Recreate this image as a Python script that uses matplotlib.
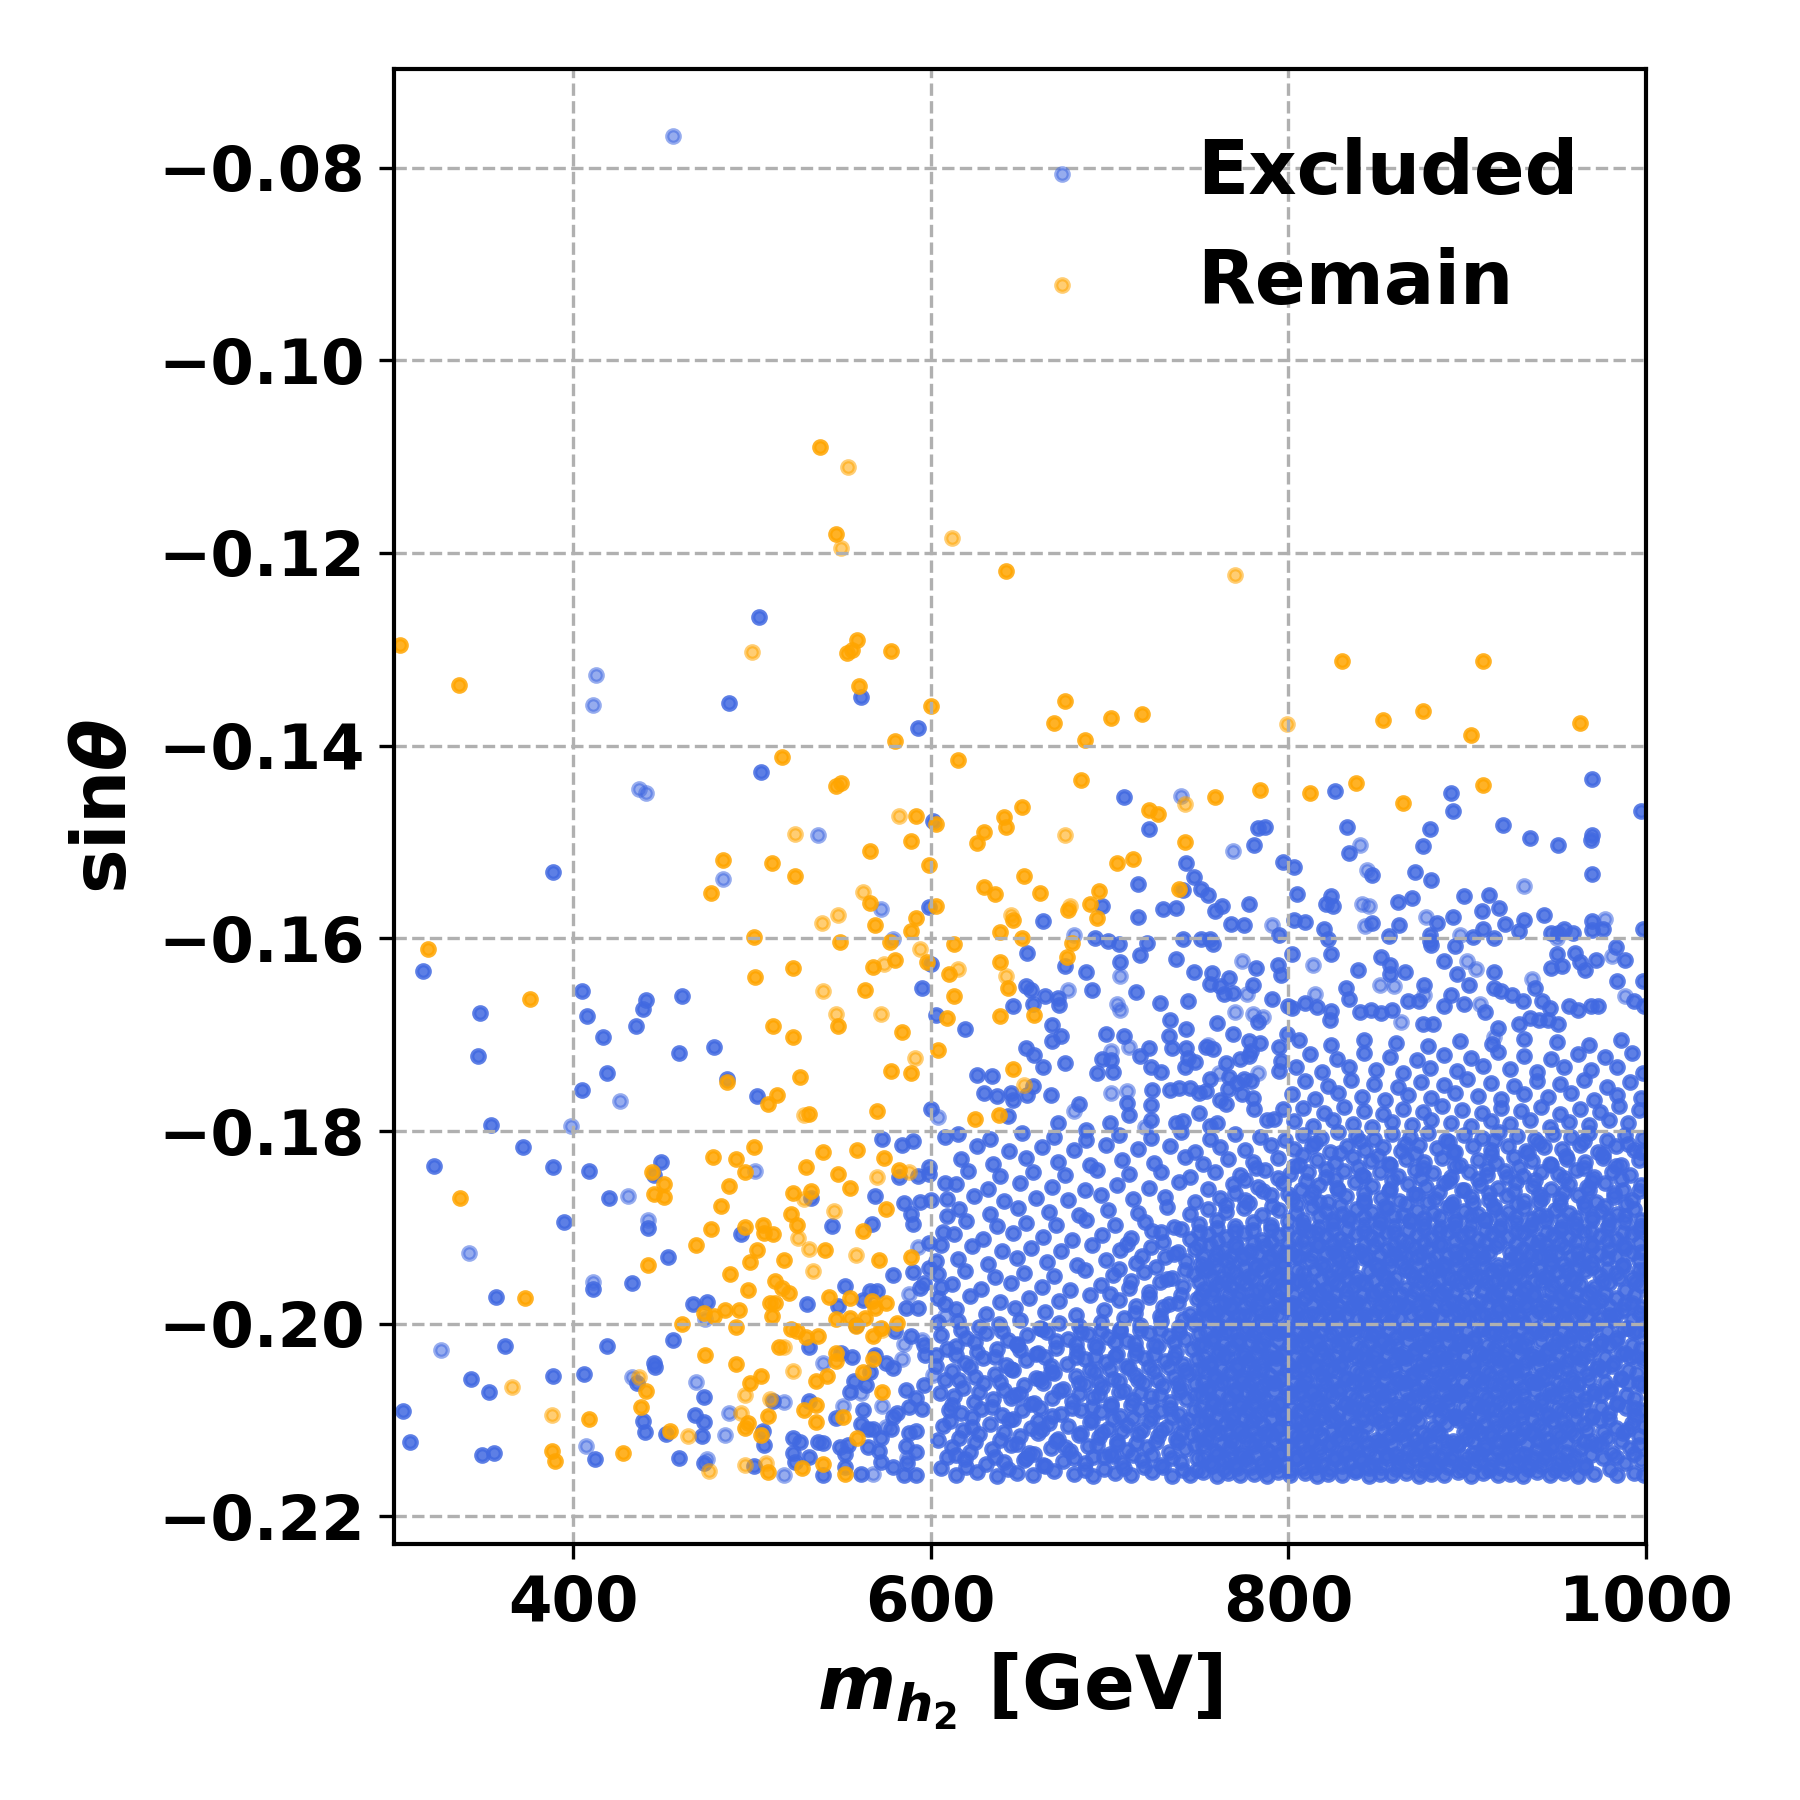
import numpy as np
import matplotlib
matplotlib.use('Agg')
import matplotlib.pyplot as plt

plt.rcParams['mathtext.fontset'] = 'custom'
plt.rcParams['mathtext.rm'] = 'DejaVu Sans:bold'
plt.rcParams['mathtext.it'] = 'DejaVu Sans:italic:bold'
plt.rcParams['mathtext.bf'] = 'DejaVu Sans:bold'

# points: (m_h2 in GeV, sin(theta) * 1e4)
remain_pts = [
    (303,-1295),(336,-1337),(538,-1090),(547,-1180),(559,-1290),(556,-1301),(553,-1304),(578,-1302),(560,-1338),(600,-1359),
    (580,-1395),(517,-1412),(547,-1442),(550,-1439),(592,-1473),(603,-1481),(589,-1499),(566,-1509),(484,-1519),(511,-1522),
    (524,-1535),(477,-1553),(599,-1524),(566,-1563),(569,-1586),(592,-1579),(589,-1592),(603,-1566),(501,-1599),
    (319,-1611),(376,-1663),(337,-1869),(373,-1973),(388,-2132),(390,-2142),(409,-2099),(428,-2134),
    (502,-1640),(523,-1631),(549,-1604),(512,-1691),(523,-1702),(548,-1691),(563,-1654),(568,-1630),(580,-1622),(577,-1604),
    (598,-1625),(584,-1697),(604,-1716),(610,-1637),(609,-1683),(527,-1744),(578,-1738),(589,-1740),(486,-1749),(514,-1763),
    (509,-1772),(532,-1782),(570,-1779),(501,-1817),(540,-1822),(559,-1820),(574,-1828),(478,-1827),(491,-1829),(496,-1842),
    (444,-1842),(451,-1855),(445,-1865),(451,-1868),(487,-1857),(530,-1837),(548,-1845),(582,-1840),(555,-1859),(523,-1864),
    (533,-1862),(483,-1878),(575,-1881),(522,-1886),(525,-1898),(496,-1900),(506,-1897),(507,-1906),(512,-1907),(477,-1902),
    (562,-1904),(469,-1918),(541,-1923),(503,-1923),(499,-1936),(518,-1934),(571,-1934),(589,-1931),(488,-1948),(442,-1939),
    (513,-1956),(517,-1963),(521,-1968),(498,-1965),(543,-1972),(555,-1973),(510,-1978),(513,-1978),(567,-1976),(569,-1984),
    (575,-1978),(485,-1986),(493,-1986),(473,-1989),(479,-1992),(511,-1992),(547,-1995),(555,-1994),(563,-1994),(581,-1999),
    (558,-2002),(572,-2004),(568,-2013),(461,-2000),(491,-2003),(522,-2005),(525,-2008),(530,-2014),(537,-2013),(515,-2024),
    (474,-2032),(547,-2030),(547,-2039),(568,-2037),(491,-2042),(562,-2050),(542,-2054),(505,-2054),(536,-2059),(499,-2062),
    (441,-2070),(438,-2086),(573,-2071),(536,-2084),(529,-2090),(509,-2096),(551,-2097),(536,-2102),(498,-2103),(496,-2108),
    (505,-2115),(454,-2111),(559,-2119),(540,-2146),(528,-2150),(509,-2154),(552,-2156),
    (642,-1219),(830,-1312),(909,-1312),(963,-1376),(675,-1354),(669,-1376),(686,-1394),(701,-1371),(718,-1367),(853,-1373),
    (875,-1364),(902,-1389),(615,-1415),(684,-1436),(759,-1453),(784,-1446),(812,-1449),(838,-1439),(864,-1459),(909,-1441),
    (651,-1464),(641,-1474),(642,-1484),(630,-1490),(626,-1501),(722,-1467),(727,-1471),(742,-1500),(704,-1522),(713,-1518),
    (652,-1535),(630,-1547),(636,-1554),(661,-1553),(694,-1551),(689,-1564),(677,-1571),(693,-1579),(646,-1581),(639,-1593),
    (651,-1600),(739,-1549),(613,-1606),(679,-1605),(676,-1619),(639,-1625),(643,-1651),(613,-1660),(639,-1681),(658,-1680),
    (646,-1736),(625,-1787),(638,-1783),
]
remain_faint = [
    (554,-1111),(550,-1195),(612,-1184),(500,-1303),(582,-1473),(524,-1492),(562,-1552),(548,-1576),(539,-1584),
    (366,-2066),(388,-2095),(540,-1655),(547,-1679),(574,-1627),(594,-1611),(572,-1678),(591,-1724),(529,-1783),(588,-1842),
    (570,-1848),(529,-1870),(546,-1883),(526,-1911),(532,-1922),(558,-1929),(534,-1945),(573,-2006),(518,-2024),(523,-2049),
    (437,-2055),(496,-2074),(510,-2078),(494,-2093),(464,-2116),(508,-2145),(496,-2147),(476,-2153),
    (770,-1223),(799,-1377),(675,-1493),(742,-1461),(678,-1566),(645,-1576),(615,-1632),(642,-1639),(652,-1752),
]
excluded_pts = [
    (504,-1266),(487,-1356),(561,-1349),(593,-1382),(505,-1427),(601,-1478),(389,-1531),(599,-1567),
    (316,-1634),(348,-1677),(347,-1722),(405,-1655),(408,-1681),(441,-1664),(439,-1673),(461,-1660),(435,-1691),(417,-1702),
    (459,-1719),(479,-1713),(419,-1740),(405,-1757),(486,-1746),(503,-1764),(354,-1794),(372,-1817),(322,-1836),(389,-1837),
    (409,-1841),(449,-1832),(445,-1846),(420,-1869),(395,-1894),(442,-1901),(453,-1931),(411,-1964),(433,-1958),(357,-1972),
    (494,-1907),(533,-1869),(545,-1899),(567,-1896),(573,-1808),(584,-1814),(590,-1810),(595,-1652),(600,-1627),(603,-1680),
    (600,-1777),(582,-1848),(593,-1847),(599,-1837),(599,-1845),(569,-1867),(585,-1875),(594,-1874),(600,-1872),(589,-1886),
    (590,-1896),(599,-1916),(606,-1918),(608,-1806),(609,-1870),(608,-1854),(609,-1888),(590,-1946),(579,-1949),(599,-1942),
    (604,-1948),(596,-1958),(594,-1963),(604,-1973),(552,-1961),(562,-1975),(566,-1966),(570,-1966),(531,-1980),(548,-1982),
    (586,-1984),(593,-1984),(467,-1979),(475,-1977),(456,-2017),(419,-2023),(362,-2023),(343,-2057),(353,-2071),(389,-2054),
    (406,-2052),(445,-2041),(446,-2045),(436,-2061),(305,-2091),(309,-2123),(349,-2136),(356,-2134),(412,-2140),(439,-2101),
    (440,-2112),(452,-2114),(468,-2095),(473,-2102),(472,-2116),(473,-2076),(459,-2139),(473,-2145),(501,-2148),(506,-2111),
    (507,-2126),(512,-2080),(523,-2119),(527,-2123),(523,-2134),(524,-2143),(532,-2138),(537,-2123),(540,-2124),(540,-2157),
    (532,-2080),(547,-2098),(549,-2128),(552,-2135),(552,-2149),(554,-2126),(561,-2156),(565,-2128),(571,-2132),(572,-2143),
    (561,-2104),(565,-2109),(568,-2109),(572,-2119),(578,-2109),(579,-2149),(585,-2157),(592,-2157),(587,-2145),(586,-2127),
    (592,-2133),(588,-2113),(592,-2111),(579,-2097),(581,-2093),(588,-2086),(595,-2088),(592,-2077),(562,-2090),(555,-2071),
    (557,-2059),(564,-2064),(556,-2035),(550,-2030),(532,-2024),(566,-2050),(569,-2032),(575,-2041),(579,-2046),(586,-2069),
    (596,-2064),(580,-2007),(589,-2013),(596,-2022),(597,-2032),(603,-2032),(558,-2001),
    (708,-1453),(722,-1487),(783,-1485),(787,-1484),(781,-1503),(743,-1522),(747,-1536),(751,-1549),(755,-1555),(716,-1544),
    (741,-1550),(797,-1521),(803,-1526),(805,-1554),(826,-1447),(833,-1484),(834,-1511),(847,-1534),(824,-1556),(821,-1564),
    (825,-1566),(861,-1562),(869,-1558),(871,-1531),(875,-1504),(879,-1486),(880,-1539),(891,-1449),(892,-1468),(898,-1556),
    (912,-1555),(908,-1572),(892,-1578),(883,-1584),(879,-1596),(862,-1586),(856,-1598),(847,-1584),(820,-1590),(822,-1601),
    (809,-1583),(803,-1581),(795,-1596),(778,-1564),(775,-1586),(768,-1585),(763,-1566),(759,-1572),(756,-1601),(751,-1601),
    (741,-1601),(737,-1568),(730,-1570),(716,-1578),(696,-1566),(663,-1582),(692,-1600),(699,-1603),(903,-1599),(909,-1590),
    (970,-1435),(920,-1482),(935,-1496),(951,-1503),(970,-1493),(969,-1498),(997,-1468),(970,-1533),(918,-1569),(932,-1581),
    (943,-1576),(921,-1585),(915,-1600),(929,-1592),(951,-1594),(954,-1590),(959,-1594),(970,-1582),(976,-1590),(970,-1591),
    (998,-1590),(893,-1608),(950,-1616),(960,-1615),(983,-1609),(947,-1594),
    (879,-1603),(880,-1607),(802,-1616),(824,-1616),(839,-1633),(852,-1619),(857,-1628),(857,-1637),(865,-1635),(887,-1624),
    (894,-1637),(915,-1635),(901,-1648),(876,-1648),(832,-1652),(834,-1663),(809,-1667),(802,-1672),(816,-1671),(824,-1675),
    (823,-1685),(840,-1676),(846,-1674),(852,-1677),(858,-1674),(867,-1665),(873,-1665),(875,-1689),(881,-1689),(887,-1670),
    (891,-1659),(898,-1668),(910,-1676),(915,-1652),(919,-1655),(925,-1659),(931,-1665),(938,-1652),(942,-1665),(946,-1672),
    (947,-1631),(953,-1629),(963,-1625),(966,-1633),(972,-1622),(988,-1622),(998,-1644),(984,-1644),(957,-1670),(962,-1674),
    (969,-1670),(973,-1670),(993,-1665),(999,-1670),(929,-1689),(935,-1683),(940,-1685),(945,-1685),(951,-1689),(917,-1693),
    (705,-1606),(721,-1605),(758,-1606),(654,-1615),(675,-1629),(687,-1635),(690,-1654),(706,-1625),(717,-1617),(737,-1621),
    (747,-1635),(757,-1636),(756,-1647),(762,-1649),(767,-1641),(782,-1631),(794,-1628),(796,-1638),(780,-1648),(764,-1658),
    (769,-1657),(791,-1663),(800,-1670),(653,-1649),(656,-1654),(664,-1660),(671,-1662),(672,-1669),(657,-1668),(646,-1670),
    (619,-1694),(668,-1690),(673,-1701),(668,-1707),(715,-1656),(728,-1667),(744,-1665),(734,-1685),(743,-1694),(733,-1701),
    (760,-1688),(783,-1687),(769,-1699),(778,-1707),(784,-1709),(795,-1713),(799,-1699),(653,-1714),(658,-1721),(663,-1733),
    (675,-1729),(698,-1699),(708,-1701),(696,-1725),(701,-1726),(722,-1714),(717,-1722),(735,-1714),(743,-1714),(744,-1724),
    (742,-1733),(748,-1728),(754,-1713),(758,-1715),(765,-1729),(773,-1725),(778,-1722),(779,-1717),(796,-1727),(626,-1742),
    (634,-1743),(693,-1740),(702,-1739),(723,-1733),(729,-1739),(724,-1757),(734,-1757),(739,-1755),(745,-1755),(756,-1746),
    (767,-1744),(766,-1756),(771,-1750),(775,-1746),(779,-1748),(795,-1738),(630,-1760),(637,-1764),(645,-1761),(646,-1768),
    (654,-1763),(657,-1753),(667,-1763),(710,-1771),(711,-1783),(723,-1773),(723,-1789),(750,-1760),(754,-1758),(762,-1768),
    (765,-1772),(774,-1762),(780,-1766),(781,-1777),(788,-1788),(792,-1787),(797,-1777),(643,-1784),(671,-1792),(687,-1799),
    (683,-1772),(700,-1792),(737,-1792),(741,-1790),(750,-1781),(760,-1792),(756,-1795),
]
excluded_faint = [
    (456,-767),(413,-1327),(411,-1358),(437,-1445),(441,-1449),(537,-1493),(484,-1538),(572,-1570),(579,-1601),
    (426,-1769),(399,-1795),(431,-1867),(442,-1892),(342,-1927),(411,-1957),(502,-1841),(604,-1785),(593,-1920),(588,-1969),
    (608,-1992),(474,-1995),(326,-2027),(433,-2055),(407,-2127),(469,-2060),(487,-2093),(485,-2115),(475,-2140),(518,-2081),
    (518,-2157),(568,-2156),(575,-2107),(551,-2085),(573,-2085),(561,-2072),(540,-2041),(584,-2037),(585,-2021),(595,-2017),
    (601,-2053),(587,-2139),
    (740,-1452),(769,-1509),(840,-1503),(844,-1529),(841,-1564),(845,-1566),(877,-1578),(843,-1587),(791,-1586),(680,-1596),
    (896,-1596),(932,-1546),(977,-1580),(950,-1600),
    (814,-1628),(900,-1624),(905,-1632),(876,-1659),(851,-1648),(859,-1649),(815,-1658),(863,-1687),(907,-1668),(936,-1642),
    (981,-1618),(988,-1660),(915,-1702),
    (706,-1639),(677,-1654),(704,-1668),(706,-1674),(770,-1676),(780,-1679),(786,-1682),(711,-1713),(701,-1717),(761,-1740),
    (783,-1740),(701,-1761),(710,-1758),(680,-1779),(720,-1796),(755,-1711),(774,-1624),(777,-1658),
]
# dense cloud
excluded_dense = [
    (614,-2157),(626,-2154),(637,-2158),(648,-2155),(657,-2157),(669,-2153),(680,-2156),(691,-2158),(703,-2155),(712,-2157),(724,-2154),(735,-2158),(745,-2157),(752,-2154),(760,-2158),(766,-2155),(773,-2157),(781,-2156),(788,-2158),(794,-2154),(801,-2157),(809,-2155),(816,-2158),(822,-2156),(830,-2157),(837,-2154),(845,-2158),(851,-2156),(858,-2157),(866,-2155),(873,-2158),(880,-2156),(887,-2157),(895,-2154),(902,-2158),(909,-2155),(917,-2157),(924,-2156),(931,-2158),(939,-2154),(946,-2157),(954,-2155),(962,-2158),(971,-2156),(984,-2157),(993,-2155),(999,-2157),
    (619,-2140),(631,-2146),(641,-2143),(653,-2139),(663,-2147),(674,-2142),(686,-2145),(697,-2138),(707,-2144),(718,-2141),(729,-2147),(740,-2143),(749,-2139),(756,-2145),(764,-2142),(770,-2146),(777,-2140),(785,-2144),(791,-2141),(798,-2147),(805,-2139),(813,-2143),(819,-2146),(826,-2140),(834,-2144),(841,-2142),(848,-2147),(855,-2139),(862,-2145),(870,-2141),(877,-2143),(884,-2146),(891,-2140),(898,-2144),(906,-2141),(913,-2147),(920,-2139),(928,-2143),(935,-2146),(943,-2140),(950,-2144),(958,-2142),(966,-2147),(976,-2139),(988,-2145),(997,-2141),
    (612,-2128),(622,-2133),(634,-2130),(645,-2126),(655,-2134),(667,-2129),(678,-2132),(688,-2127),(700,-2135),(710,-2131),(721,-2128),(733,-2133),(742,-2130),(752,-2126),(759,-2132),(767,-2129),(774,-2134),(781,-2127),(788,-2131),(795,-2135),(802,-2128),(809,-2133),(817,-2130),(824,-2126),(831,-2134),(838,-2129),(845,-2132),(852,-2127),(860,-2135),(867,-2131),(874,-2128),(881,-2133),(888,-2130),(895,-2126),(903,-2134),(910,-2129),(917,-2132),(924,-2127),(932,-2135),(939,-2131),(947,-2128),(955,-2133),(963,-2130),(972,-2126),(981,-2134),(991,-2129),
    (616,-2119),(627,-2114),(639,-2121),(650,-2116),(660,-2113),(671,-2120),(683,-2115),(694,-2118),(704,-2122),(716,-2114),(727,-2117),(737,-2120),(746,-2115),(754,-2119),(761,-2113),(768,-2121),(776,-2116),(783,-2118),(790,-2114),(797,-2120),(805,-2117),(812,-2122),(819,-2115),(827,-2119),(834,-2113),(841,-2116),(849,-2121),(856,-2118),(863,-2114),(870,-2120),(878,-2117),(885,-2115),(892,-2122),(900,-2119),(907,-2113),(914,-2116),(922,-2121),(929,-2118),(937,-2114),(944,-2120),(952,-2117),(960,-2115),(969,-2122),(978,-2119),(987,-2113),(996,-2116),
    (611,-2101),(623,-2107),(633,-2104),(644,-2100),(656,-2108),(666,-2103),(677,-2106),(689,-2102),(699,-2109),(710,-2105),(722,-2101),(732,-2107),(741,-2104),(750,-2100),(757,-2106),(765,-2103),(772,-2108),(779,-2102),(786,-2105),(794,-2109),(801,-2101),(808,-2107),(815,-2104),(823,-2100),(830,-2108),(837,-2103),(844,-2106),(852,-2102),(859,-2109),(866,-2105),(873,-2101),(881,-2107),(888,-2104),(895,-2100),(902,-2108),(910,-2103),(917,-2106),(925,-2102),(932,-2109),(940,-2105),(948,-2101),(956,-2107),(965,-2104),(974,-2100),(983,-2108),(992,-2103),(999,-2106),
    (617,-2093),(628,-2088),(640,-2095),(651,-2090),(661,-2087),(673,-2094),(684,-2089),(695,-2092),(706,-2096),(717,-2088),(728,-2091),(739,-2094),(747,-2089),(755,-2093),(762,-2087),(769,-2095),(777,-2090),(784,-2092),(791,-2088),(798,-2094),(806,-2091),(813,-2096),(820,-2089),(828,-2093),(835,-2087),(842,-2090),(850,-2095),(857,-2092),(864,-2088),(871,-2094),(879,-2091),(886,-2089),(893,-2096),(901,-2093),(908,-2087),(915,-2090),(923,-2095),(930,-2092),(938,-2088),(945,-2094),(953,-2091),(961,-2089),(970,-2096),(979,-2093),(989,-2087),(997,-2090),
    (613,-2075),(624,-2081),(635,-2078),(647,-2074),(658,-2082),(668,-2077),(679,-2080),(691,-2076),(701,-2083),(713,-2079),(723,-2075),(734,-2081),(743,-2078),(751,-2074),(758,-2080),(766,-2077),(773,-2082),(780,-2076),(787,-2079),(795,-2083),(802,-2075),(809,-2081),(816,-2078),(824,-2074),(831,-2082),(838,-2077),(846,-2080),(853,-2076),(860,-2083),(867,-2079),(875,-2075),(882,-2081),(889,-2078),(896,-2074),(904,-2082),(911,-2077),(918,-2080),(926,-2076),(933,-2083),(941,-2079),(949,-2075),(957,-2081),(966,-2078),(975,-2074),(984,-2082),(994,-2077),
    (618,-2067),(630,-2062),(641,-2069),(652,-2064),(663,-2061),(674,-2068),(686,-2063),(696,-2066),(708,-2070),(719,-2062),(730,-2065),(740,-2068),(748,-2063),(755,-2067),(763,-2061),(770,-2069),(778,-2064),(785,-2066),(792,-2062),(799,-2068),(807,-2065),(814,-2070),(821,-2063),(829,-2067),(836,-2061),(843,-2064),(851,-2069),(858,-2066),(865,-2062),(872,-2068),(880,-2065),(887,-2063),(894,-2070),(902,-2067),(909,-2061),(917,-2064),(924,-2069),(931,-2066),(939,-2062),(946,-2068),(954,-2065),(962,-2063),(971,-2070),(980,-2067),(990,-2061),(998,-2064),
    (612,-2049),(625,-2055),(636,-2052),(646,-2048),(659,-2056),(669,-2051),(681,-2054),(692,-2050),(702,-2057),(714,-2053),(725,-2049),(736,-2055),(744,-2052),(752,-2048),(759,-2054),(767,-2051),(774,-2056),(781,-2050),(789,-2053),(796,-2057),(803,-2049),(810,-2055),(818,-2052),(825,-2048),(832,-2056),(840,-2051),(847,-2054),(854,-2050),(861,-2057),(869,-2053),(876,-2049),(883,-2055),(890,-2052),(898,-2048),(905,-2056),(912,-2051),(920,-2054),(927,-2050),(935,-2057),(942,-2053),(950,-2049),(958,-2055),(967,-2052),(976,-2048),(986,-2056),(995,-2051),
    (619,-2041),(629,-2036),(642,-2043),(653,-2038),(664,-2035),(676,-2042),(686,-2037),(698,-2040),(709,-2044),(720,-2036),(731,-2039),(741,-2042),(749,-2037),(756,-2041),(764,-2035),(771,-2043),(778,-2038),(786,-2040),(793,-2036),(800,-2042),(808,-2039),(815,-2044),(822,-2037),(830,-2041),(837,-2035),(844,-2038),(852,-2043),(859,-2040),(866,-2036),(874,-2042),(881,-2039),(888,-2037),(896,-2044),(903,-2041),(910,-2035),(918,-2038),(925,-2043),(933,-2040),(940,-2036),(948,-2042),(956,-2039),(964,-2037),(973,-2044),(982,-2041),(991,-2035),(999,-2038),
    (614,-2023),(626,-2029),(637,-2026),(648,-2022),(660,-2030),(670,-2025),(682,-2028),(693,-2024),(704,-2031),(715,-2027),(727,-2023),(737,-2029),(746,-2026),(753,-2022),(761,-2028),(768,-2025),(775,-2030),(783,-2024),(790,-2027),(797,-2031),(805,-2023),(812,-2029),(819,-2026),(827,-2022),(834,-2030),(841,-2025),(849,-2028),(856,-2024),(863,-2031),(871,-2027),(878,-2023),(885,-2029),(893,-2026),(900,-2022),(907,-2030),(915,-2025),(922,-2028),(930,-2024),(937,-2031),(945,-2027),(953,-2023),(961,-2029),(970,-2026),(979,-2022),(988,-2030),(997,-2025),
    (620,-2015),(631,-2010),(643,-2017),(654,-2012),(665,-2009),(677,-2016),(688,-2011),(699,-2014),(710,-2018),(722,-2010),(733,-2013),(742,-2016),(750,-2011),(758,-2015),(765,-2009),(772,-2017),(780,-2012),(787,-2014),(794,-2010),(802,-2016),(809,-2013),(816,-2018),(824,-2011),(831,-2015),(838,-2009),(846,-2012),(853,-2017),(860,-2014),(868,-2010),(875,-2016),(882,-2013),(890,-2011),(897,-2018),(904,-2015),(912,-2009),(919,-2012),(927,-2017),(934,-2014),(942,-2010),(950,-2016),(958,-2013),(966,-2011),(975,-2018),(984,-2015),(993,-2009),
    (615,-1997),(627,-2003),(638,-2000),(650,-1996),(661,-2004),(672,-1999),(683,-2002),(695,-1998),(706,-2005),(717,-2001),(729,-1997),(739,-2003),(747,-2000),(754,-1996),(762,-2002),(769,-1999),(777,-2004),(784,-1998),(791,-2001),(799,-2005),(806,-1997),(813,-2003),(821,-2000),(828,-1996),(835,-2004),(843,-1999),(850,-2002),(857,-1998),(865,-2005),(872,-2001),(879,-1997),(887,-2003),(894,-2000),(901,-1996),(909,-2004),(916,-1999),(924,-2002),(931,-1998),(939,-2005),(947,-2001),(955,-1997),(963,-2003),(972,-2000),(981,-1996),(990,-2004),(998,-1999),
    (614,-1985),(631,-1990),(647,-1984),(664,-1988),(681,-1991),(697,-1986),(714,-1989),(730,-1983),(745,-1990),(753,-1985),(760,-1988),(768,-1984),(775,-1991),(783,-1986),(790,-1989),(798,-1983),(805,-1987),(813,-1990),(820,-1985),(828,-1988),(835,-1984),(843,-1991),(850,-1986),(858,-1989),(865,-1983),(873,-1987),(880,-1990),(888,-1985),(895,-1988),(903,-1984),(910,-1991),(918,-1986),(925,-1989),(933,-1983),(940,-1987),(948,-1990),(955,-1985),(963,-1988),(971,-1984),(979,-1991),(987,-1986),(996,-1989),
    (622,-1971),(639,-1977),(655,-1973),(672,-1976),(689,-1970),(705,-1975),(722,-1972),(738,-1978),(749,-1974),(757,-1970),(764,-1977),(772,-1972),(779,-1976),(787,-1971),(794,-1975),(802,-1978),(809,-1973),(817,-1970),(824,-1976),(832,-1972),(839,-1977),(847,-1971),(854,-1974),(862,-1978),(869,-1972),(877,-1975),(884,-1970),(892,-1977),(899,-1973),(907,-1976),(914,-1971),(922,-1978),(929,-1974),(937,-1970),(944,-1976),(952,-1972),(959,-1977),(967,-1971),(975,-1975),(983,-1973),(992,-1978),
    (612,-1959),(628,-1964),(645,-1958),(662,-1962),(678,-1965),(695,-1960),(711,-1963),(728,-1957),(741,-1961),(753,-1964),(760,-1959),(768,-1962),(776,-1958),(783,-1965),(791,-1960),(798,-1963),(806,-1957),(813,-1961),(821,-1964),(828,-1959),(836,-1962),(843,-1958),(851,-1965),(858,-1960),(866,-1963),(873,-1957),(881,-1961),(888,-1964),(896,-1959),(903,-1962),(911,-1958),(918,-1965),(926,-1960),(933,-1963),(941,-1957),(948,-1961),(956,-1964),(963,-1959),(971,-1962),(979,-1958),(988,-1965),(997,-1960),
    (619,-1945),(636,-1951),(652,-1947),(669,-1950),(686,-1944),(702,-1949),(719,-1946),(735,-1952),(747,-1948),(755,-1944),(763,-1951),(770,-1946),(778,-1950),(785,-1945),(793,-1949),(800,-1952),(808,-1947),(815,-1944),(823,-1950),(830,-1946),(838,-1951),(845,-1945),(853,-1948),(860,-1952),(868,-1946),(875,-1949),(883,-1944),(890,-1951),(898,-1947),(905,-1950),(913,-1945),(920,-1952),(928,-1948),(935,-1944),(943,-1950),(950,-1946),(958,-1951),(966,-1945),(974,-1949),(983,-1947),(992,-1952),(999,-1944),
    (615,-1933),(632,-1938),(648,-1932),(665,-1936),(682,-1939),(698,-1934),(715,-1937),(731,-1931),(743,-1935),(751,-1938),(759,-1933),(766,-1936),(774,-1932),(782,-1939),(789,-1934),(797,-1937),(804,-1931),(812,-1935),(819,-1938),(827,-1933),(834,-1936),(842,-1932),(849,-1939),(857,-1934),(864,-1937),(872,-1931),(879,-1935),(887,-1938),(894,-1933),(902,-1936),(909,-1932),(917,-1939),(924,-1934),(932,-1937),(939,-1931),(947,-1935),(954,-1938),(962,-1933),(970,-1936),(978,-1932),(987,-1939),(996,-1934),
    (623,-1919),(640,-1925),(656,-1921),(673,-1924),(690,-1918),(706,-1923),(723,-1920),(738,-1926),(748,-1922),(756,-1918),(764,-1925),(771,-1920),(779,-1924),(787,-1919),(794,-1923),(802,-1926),(810,-1921),(817,-1918),(825,-1924),(832,-1920),(840,-1925),(848,-1919),(855,-1922),(863,-1926),(870,-1920),(878,-1923),(886,-1918),(893,-1925),(901,-1921),(908,-1924),(916,-1919),(924,-1926),(931,-1922),(939,-1918),(946,-1924),(954,-1920),(962,-1925),(970,-1919),(979,-1923),(988,-1921),(997,-1926),
    (613,-1907),(629,-1912),(646,-1906),(663,-1910),(679,-1913),(696,-1908),(712,-1911),(729,-1905),(745,-1912),(755,-1907),(765,-1910),(775,-1906),(785,-1913),(795,-1908),(804,-1911),(812,-1905),(821,-1909),(829,-1912),(838,-1907),(846,-1910),(855,-1906),(863,-1913),(872,-1908),(880,-1911),(889,-1905),(897,-1909),(906,-1912),(914,-1907),(923,-1910),(931,-1906),(940,-1913),(948,-1908),(957,-1911),(965,-1905),(974,-1909),(983,-1912),(992,-1907),
    (620,-1893),(637,-1899),(653,-1895),(670,-1898),(687,-1892),(703,-1897),(720,-1894),(736,-1900),(750,-1896),(760,-1892),(770,-1899),(780,-1894),(790,-1898),(800,-1893),(808,-1897),(817,-1900),(825,-1895),(834,-1892),(842,-1898),(851,-1894),(859,-1899),(868,-1893),(876,-1896),(885,-1900),(893,-1894),(902,-1897),(910,-1892),(919,-1899),(927,-1895),(936,-1898),(944,-1893),(953,-1900),(961,-1896),(970,-1892),(979,-1898),(988,-1894),(997,-1899),
    (616,-1881),(633,-1886),(649,-1880),(666,-1884),(683,-1887),(699,-1882),(716,-1885),(732,-1879),(745,-1886),(755,-1881),(765,-1884),(775,-1880),(785,-1887),(795,-1882),(804,-1885),(813,-1879),(821,-1883),(830,-1886),(838,-1881),(847,-1884),(855,-1880),(864,-1887),(872,-1882),(881,-1885),(889,-1879),(898,-1883),(906,-1886),(915,-1881),(923,-1884),(932,-1880),(940,-1887),(949,-1882),(957,-1885),(966,-1879),(975,-1883),(984,-1886),(993,-1881),
    (624,-1867),(641,-1873),(659,-1869),(677,-1872),(695,-1866),(713,-1871),(731,-1868),(748,-1874),(762,-1869),(776,-1872),(790,-1866),(802,-1871),(812,-1868),(822,-1874),(832,-1867),(842,-1872),(852,-1869),(862,-1873),(872,-1866),(882,-1870),(892,-1874),(902,-1868),(912,-1872),(922,-1867),(932,-1873),(942,-1869),(952,-1871),(962,-1866),(972,-1874),(982,-1868),(992,-1872),
    (614,-1855),(632,-1860),(650,-1854),(668,-1858),(686,-1861),(704,-1856),(722,-1859),(739,-1853),(755,-1860),(769,-1855),(783,-1858),(797,-1854),(807,-1861),(817,-1856),(827,-1859),(837,-1853),(847,-1857),(857,-1860),(867,-1855),(877,-1858),(887,-1854),(897,-1861),(907,-1856),(917,-1859),(927,-1853),(937,-1857),(947,-1860),(957,-1855),(967,-1858),(977,-1854),(987,-1861),(997,-1856),
    (621,-1841),(639,-1847),(657,-1843),(675,-1846),(693,-1840),(711,-1845),(729,-1842),(745,-1848),(759,-1843),(773,-1846),(787,-1840),(801,-1845),(811,-1842),(821,-1848),(831,-1841),(841,-1846),(851,-1843),(861,-1847),(871,-1840),(881,-1844),(891,-1848),(901,-1842),(911,-1846),(921,-1841),(931,-1847),(941,-1843),(951,-1845),(961,-1840),(971,-1848),(981,-1842),(991,-1846),
    (617,-1829),(635,-1834),(653,-1828),(671,-1832),(689,-1835),(707,-1830),(725,-1833),(742,-1827),(752,-1834),(766,-1829),(780,-1832),(794,-1828),(806,-1835),(816,-1830),(826,-1833),(836,-1827),(846,-1831),(856,-1834),(866,-1829),(876,-1832),(886,-1828),(896,-1835),(906,-1830),(916,-1833),(926,-1827),(936,-1831),(946,-1834),(956,-1829),(966,-1832),(976,-1828),(986,-1835),(996,-1830),
    (626,-1815),(644,-1821),(662,-1817),(680,-1820),(698,-1814),(716,-1819),(734,-1816),(748,-1822),(762,-1817),(776,-1820),(790,-1814),(803,-1819),(813,-1816),(823,-1822),(833,-1815),(843,-1820),(853,-1817),(863,-1821),(873,-1814),(883,-1818),(893,-1822),(903,-1816),(913,-1820),(923,-1815),(933,-1821),(943,-1817),(953,-1819),(963,-1814),(973,-1822),(983,-1816),(993,-1820),
    (615,-1803),(633,-1808),(651,-1802),(669,-1806),(687,-1809),(705,-1804),(723,-1807),(740,-1801),(756,-1808),(770,-1803),(784,-1806),(798,-1809),(808,-1804),(818,-1807),(828,-1801),(838,-1805),(848,-1808),(858,-1803),(868,-1806),(878,-1802),(888,-1809),(898,-1804),(908,-1807),(918,-1801),(928,-1805),(938,-1808),(948,-1803),(958,-1806),(968,-1802),(978,-1809),(988,-1804),(998,-1807),
    (803,-1790),(814,-1795),(825,-1789),(836,-1793),(847,-1796),(858,-1791),(869,-1794),(880,-1788),(891,-1792),(902,-1795),(913,-1790),(924,-1793),(935,-1789),(946,-1796),(957,-1791),(968,-1794),(979,-1788),(990,-1792),
    (808,-1776),(820,-1781),(831,-1775),(842,-1779),(853,-1782),(864,-1777),(875,-1780),(886,-1774),(897,-1778),(908,-1781),(919,-1776),(930,-1779),(941,-1775),(952,-1782),(963,-1777),(974,-1780),(985,-1774),(996,-1778),
    (802,-1762),(815,-1767),(828,-1761),(841,-1765),(854,-1768),(867,-1763),(880,-1766),(893,-1760),(906,-1764),(919,-1767),(932,-1762),(945,-1765),(958,-1761),(971,-1768),(984,-1763),(997,-1766),
    (809,-1748),(822,-1753),(835,-1747),(848,-1751),(861,-1754),(874,-1749),(887,-1752),(900,-1746),(913,-1750),(926,-1753),(939,-1748),(952,-1751),(965,-1747),(978,-1754),(991,-1749),
    (804,-1734),(819,-1739),(834,-1733),(849,-1737),(864,-1740),(879,-1735),(894,-1738),(909,-1732),(924,-1736),(939,-1739),(954,-1734),(969,-1737),(984,-1733),(998,-1740),
    (812,-1720),(827,-1725),(842,-1719),(857,-1723),(872,-1726),(887,-1721),(902,-1724),(917,-1718),(932,-1722),(947,-1725),(962,-1720),(977,-1723),(992,-1719),
    (806,-1706),(824,-1711),(842,-1705),(860,-1709),(878,-1712),(896,-1707),(914,-1710),(932,-1704),(950,-1708),(968,-1711),(986,-1706),
]
# in-between points that make the core look solid
excluded_core = [
    (620,-2149),(643,-2151),(664,-2148),(686,-2152),(708,-2150),(730,-2149),(749,-2152),(757,-2148),(764,-2151),(771,-2150),(779,-2149),(786,-2151),(793,-2148),(801,-2152),(808,-2150),(815,-2149),(823,-2151),(830,-2148),(838,-2152),(845,-2150),(852,-2149),(860,-2151),(867,-2148),(875,-2152),(882,-2150),(889,-2149),(897,-2151),(904,-2148),(912,-2152),(919,-2150),(926,-2149),(934,-2151),(941,-2148),(949,-2152),(957,-2150),(966,-2149),(980,-2151),
    (614,-2136),(636,-2138),(658,-2135),(680,-2139),(702,-2137),(724,-2136),(752,-2139),(760,-2135),(767,-2138),(774,-2137),(782,-2136),(789,-2138),(796,-2135),(804,-2139),(811,-2137),(818,-2136),(826,-2138),(833,-2135),(840,-2139),(848,-2137),(855,-2136),(863,-2138),(870,-2135),(877,-2139),(885,-2137),(892,-2136),(900,-2138),(907,-2135),(914,-2139),(922,-2137),(929,-2136),(937,-2138),(944,-2135),(952,-2139),(960,-2137),(969,-2136),(983,-2138),(993,-2135),
    (625,-2123),(648,-2125),(670,-2122),(693,-2126),(715,-2124),(738,-2123),(748,-2126),(755,-2122),(763,-2125),(770,-2124),(778,-2123),(785,-2125),(792,-2122),(800,-2126),(807,-2124),(814,-2123),(822,-2125),(829,-2122),(836,-2126),(844,-2124),(851,-2123),(858,-2125),(866,-2122),(873,-2126),(880,-2124),(888,-2123),(895,-2125),(903,-2122),(910,-2126),(918,-2124),(925,-2123),(933,-2125),(940,-2122),(948,-2126),(956,-2124),(965,-2123),(975,-2125),(986,-2122),(996,-2126),
    (618,-2110),(641,-2112),(662,-2109),(684,-2113),(707,-2111),(729,-2110),(750,-2113),(758,-2109),(765,-2112),(773,-2111),(780,-2110),(787,-2112),(795,-2109),(802,-2113),(809,-2111),(816,-2110),(824,-2112),(831,-2109),(838,-2113),(853,-2110),(861,-2112),(868,-2109),(875,-2113),(883,-2111),(898,-2112),(905,-2109),(912,-2113),(920,-2111),(927,-2110),(935,-2112),(943,-2109),(950,-2113),(958,-2111),(967,-2110),(976,-2112),(990,-2109),
    (623,-2097),(646,-2099),(668,-2096),(690,-2100),(713,-2098),(735,-2097),(753,-2100),(760,-2096),(768,-2099),(775,-2098),(782,-2097),(790,-2099),(797,-2096),(804,-2100),(812,-2098),(819,-2097),(826,-2099),(834,-2096),(841,-2100),(848,-2098),(856,-2097),(863,-2099),(870,-2096),(885,-2098),(893,-2097),(900,-2099),(907,-2096),(915,-2100),(922,-2098),(930,-2097),(937,-2099),(945,-2096),(953,-2100),(961,-2098),(970,-2097),(979,-2099),(994,-2096),
    (612,-2084),(634,-2086),(656,-2083),(679,-2087),(701,-2085),(723,-2084),(751,-2087),(758,-2083),(766,-2086),(773,-2085),(780,-2084),(788,-2086),(795,-2083),(802,-2087),(810,-2085),(817,-2084),(824,-2086),(832,-2083),(839,-2087),(846,-2085),(854,-2084),(861,-2086),(868,-2083),(876,-2087),(883,-2085),(890,-2084),(898,-2086),(905,-2083),(912,-2087),(920,-2085),(927,-2084),(935,-2086),(942,-2083),(950,-2087),(958,-2085),(966,-2084),(975,-2086),(984,-2083),(993,-2087),
    (627,-2071),(650,-2073),(672,-2070),(694,-2074),(717,-2072),(739,-2071),(748,-2074),(755,-2070),(762,-2073),(770,-2072),(777,-2071),(784,-2073),(792,-2070),(799,-2074),(806,-2072),(813,-2071),(821,-2073),(828,-2070),(835,-2074),(843,-2072),(850,-2071),(857,-2073),(865,-2070),(872,-2074),(879,-2072),(887,-2071),(894,-2073),(901,-2070),(909,-2074),(916,-2072),(923,-2071),(931,-2073),(938,-2070),(946,-2074),(954,-2072),(962,-2071),(971,-2073),(980,-2070),(989,-2074),
    (616,-2058),(639,-2060),(661,-2057),(683,-2061),(705,-2059),(727,-2058),(752,-2061),(759,-2057),(766,-2060),(774,-2059),(781,-2058),(788,-2060),(796,-2057),(803,-2061),(810,-2059),(818,-2058),(825,-2060),(832,-2057),(840,-2061),(847,-2059),(854,-2058),(862,-2060),(869,-2057),(876,-2061),(884,-2059),(891,-2058),(898,-2060),(906,-2057),(913,-2061),(921,-2059),(928,-2058),(936,-2060),(943,-2057),(951,-2061),(959,-2059),(968,-2058),(977,-2060),(986,-2057),(996,-2061),
    (622,-2045),(645,-2047),(667,-2044),(689,-2048),(711,-2046),(733,-2045),(749,-2048),(756,-2044),(763,-2047),(771,-2046),(778,-2045),(785,-2047),(793,-2044),(800,-2048),(807,-2046),(815,-2045),(822,-2047),(829,-2044),(837,-2048),(844,-2046),(851,-2045),(859,-2047),(866,-2044),(873,-2048),(881,-2046),(888,-2045),(895,-2047),(903,-2044),(910,-2048),(917,-2046),(925,-2045),(932,-2047),(940,-2044),(947,-2048),(955,-2046),(963,-2045),(972,-2047),(981,-2044),(990,-2048),
    (614,-2032),(636,-2034),(659,-2031),(681,-2035),(703,-2033),(725,-2032),(753,-2035),(760,-2031),(767,-2034),(775,-2033),(782,-2032),(789,-2034),(797,-2031),(804,-2035),(811,-2033),(819,-2032),(826,-2034),(833,-2031),(841,-2035),(848,-2033),(855,-2032),(863,-2034),(870,-2031),(877,-2035),(885,-2033),(892,-2032),(899,-2034),(907,-2031),(914,-2035),(921,-2033),(929,-2032),(936,-2034),(944,-2031),(952,-2035),(960,-2033),(968,-2032),(977,-2034),(986,-2031),(995,-2035),
    (625,-2019),(648,-2021),(670,-2018),(692,-2022),(714,-2020),(736,-2019),(750,-2022),(757,-2018),(764,-2021),(772,-2020),(779,-2019),(786,-2021),(794,-2018),(801,-2022),(808,-2020),(816,-2019),(823,-2021),(830,-2018),(838,-2022),(845,-2020),(852,-2019),(860,-2021),(867,-2018),(874,-2022),(882,-2020),(889,-2019),(896,-2021),(904,-2018),(911,-2022),(918,-2020),(926,-2019),(933,-2021),(941,-2018),(949,-2022),(957,-2020),(965,-2019),(974,-2021),(983,-2018),(992,-2022),
    (617,-2006),(640,-2008),(662,-2005),(684,-2009),(706,-2007),(728,-2006),(754,-2009),(761,-2005),(768,-2008),(776,-2007),(783,-2006),(790,-2008),(798,-2005),(805,-2009),(812,-2007),(820,-2006),(827,-2008),(834,-2005),(842,-2009),(849,-2007),(856,-2006),(864,-2008),(871,-2005),(878,-2009),(886,-2007),(893,-2006),(900,-2008),(908,-2005),(915,-2009),(923,-2007),(930,-2006),(938,-2008),(946,-2005),(953,-2009),(961,-2007),(969,-2006),(978,-2008),(987,-2005),(996,-2009),
    (749,-1995),(757,-1991),(764,-1994),(772,-1993),(779,-1992),(787,-1994),(794,-1991),(802,-1995),(809,-1993),(817,-1992),(824,-1994),(832,-1991),(839,-1995),(847,-1993),(854,-1992),(862,-1994),(869,-1991),(877,-1995),(884,-1993),(892,-1992),(899,-1994),(907,-1991),(914,-1995),(922,-1993),(929,-1992),(937,-1994),(944,-1991),(952,-1995),(959,-1993),(967,-1992),(975,-1994),(983,-1991),(992,-1995),
    (753,-1983),(761,-1979),(768,-1982),(776,-1981),(783,-1980),(791,-1982),(798,-1979),(806,-1983),(813,-1981),(821,-1980),(828,-1982),(836,-1979),(843,-1983),(851,-1981),(858,-1980),(866,-1982),(873,-1979),(881,-1983),(888,-1981),(896,-1980),(903,-1982),(911,-1979),(918,-1983),(926,-1981),(933,-1980),(941,-1982),(948,-1979),(956,-1983),(963,-1981),(971,-1980),(979,-1982),(988,-1979),(997,-1983),
    (751,-1970),(758,-1966),(766,-1969),(773,-1968),(781,-1967),(788,-1969),(796,-1966),(803,-1970),(811,-1968),(818,-1967),(826,-1969),(833,-1966),(841,-1970),(848,-1968),(856,-1967),(863,-1969),(871,-1966),(878,-1970),(886,-1968),(893,-1967),(908,-1966),(916,-1970),(923,-1968),(931,-1967),(938,-1969),(946,-1966),(953,-1970),(961,-1968),(969,-1967),(977,-1969),(994,-1970),
    (750,-1957),(758,-1953),(765,-1956),(773,-1955),(780,-1954),(788,-1956),(795,-1953),(803,-1957),(810,-1955),(818,-1954),(825,-1956),(833,-1953),(840,-1957),(848,-1955),(855,-1954),(870,-1953),(878,-1957),(885,-1955),(893,-1954),(900,-1956),(908,-1953),(915,-1957),(923,-1955),(930,-1954),(938,-1956),(945,-1953),(953,-1957),(960,-1955),(976,-1956),(985,-1953),(994,-1957),
    (752,-1944),(759,-1940),(767,-1943),(775,-1942),(782,-1941),(790,-1943),(797,-1940),(805,-1944),(820,-1941),(827,-1943),(835,-1940),(850,-1942),(857,-1941),(865,-1943),(872,-1940),(880,-1944),(887,-1942),(895,-1941),(902,-1943),(910,-1940),(917,-1944),(925,-1942),(932,-1941),(940,-1943),(947,-1940),(955,-1944),(962,-1942),(970,-1941),(978,-1943),(987,-1940),(996,-1944),
    (752,-1931),(760,-1927),(768,-1930),(775,-1929),(783,-1928),(790,-1930),(798,-1927),(806,-1931),(813,-1929),(821,-1928),(828,-1930),(836,-1927),(844,-1931),(851,-1929),(859,-1928),(866,-1930),(874,-1927),(882,-1931),(889,-1929),(897,-1928),(904,-1930),(912,-1927),(927,-1929),(935,-1928),(942,-1930),(950,-1927),(958,-1931),(966,-1929),(974,-1928),(983,-1930),(992,-1927),
    (750,-1918),(760,-1914),(770,-1917),(780,-1916),(790,-1915),(800,-1917),(808,-1914),(816,-1918),(825,-1916),(833,-1915),(842,-1917),(850,-1914),(859,-1918),(867,-1916),(876,-1915),(884,-1917),(893,-1914),(901,-1918),(910,-1916),(918,-1915),(927,-1917),(935,-1914),(944,-1918),(952,-1916),(961,-1915),(969,-1917),(978,-1914),(987,-1918),(996,-1916),
    (750,-1905),(760,-1901),(770,-1904),(780,-1903),(790,-1902),(800,-1904),(808,-1901),(816,-1905),(825,-1903),(833,-1902),(842,-1904),(850,-1901),(859,-1905),(867,-1903),(876,-1902),(884,-1904),(893,-1901),(901,-1905),(910,-1903),(918,-1902),(927,-1904),(935,-1901),(944,-1905),(952,-1903),(961,-1902),(969,-1904),(978,-1901),(987,-1905),(996,-1903),
    (808,-1892),(817,-1888),(825,-1891),(834,-1890),(842,-1889),(851,-1891),(859,-1888),(868,-1892),(876,-1890),(885,-1889),(893,-1891),(902,-1888),(910,-1892),(919,-1890),(927,-1889),(936,-1891),(944,-1888),(953,-1892),(961,-1890),(970,-1889),(979,-1891),(988,-1888),(997,-1892),
]
# softer edges of the dense cloud
excluded_blend = [
    (606,-2150),(609,-2138),(604,-2121),(607,-2106),(610,-2089),(605,-2072),(608,-2058),(603,-2044),(609,-2026),(606,-2012),
    (604,-1998),(608,-1980),(606,-1962),(603,-1935),(607,-1905),
    (697,-2151),(719,-2149),(741,-2152),(691,-2138),(713,-2136),(735,-2139),(704,-2125),(726,-2123),(696,-2112),(718,-2110),
    (740,-2113),(702,-2099),(724,-2097),(744,-2100),(690,-2086),(712,-2084),(734,-2087),(683,-2073),(705,-2071),(728,-2074),
    (694,-2060),(716,-2058),(738,-2061),(700,-2047),(722,-2045),(742,-2048),(692,-2034),(714,-2032),(736,-2035),(681,-2021),
    (703,-2019),(725,-2022),(695,-2008),(717,-2006),(739,-2009),
    (652,-2141),(675,-2128),(660,-2101),(645,-2077),(667,-2050),(650,-2027),
    (708,-1994),(728,-1992),(741,-1995),(715,-1982),(733,-1980),(700,-1969),(722,-1967),(740,-1970),(712,-1956),(732,-1954),
    (705,-1943),(726,-1941),(742,-1944),(718,-1930),(736,-1928),(710,-1917),(730,-1915),(724,-1904),(740,-1902),
    (765,-1877),(778,-1875),(791,-1878),(805,-1876),(817,-1874),(829,-1877),(842,-1875),(854,-1878),(866,-1876),(878,-1874),
    (891,-1877),(903,-1875),(915,-1878),(928,-1876),(940,-1874),(952,-1877),(965,-1875),(977,-1878),(989,-1876),
    (770,-1864),(786,-1862),(800,-1865),(814,-1863),(828,-1861),(842,-1864),(856,-1862),(870,-1865),(884,-1863),(898,-1861),
    (912,-1864),(926,-1862),(940,-1865),(954,-1863),(968,-1861),(982,-1864),(996,-1862),
    (776,-1851),(794,-1849),(810,-1852),(826,-1850),(842,-1848),(858,-1851),(874,-1849),(890,-1852),(906,-1850),(922,-1848),
    (938,-1851),(954,-1849),(970,-1852),(986,-1850),
    (782,-1838),(803,-1836),(821,-1839),(839,-1837),(857,-1835),(875,-1838),(893,-1836),(911,-1839),(929,-1837),(947,-1835),
    (965,-1838),(983,-1836),
    (808,-1825),(829,-1823),(850,-1826),(871,-1824),(892,-1822),(913,-1825),(934,-1823),(955,-1826),(976,-1824),(997,-1822),
    (815,-1812),(840,-1810),(865,-1813),(890,-1811),(915,-1809),(940,-1812),(965,-1810),(990,-1813),
]

x_ticks = [400, 600, 800, 1000]
y_ticks = [-0.22, -0.20, -0.18, -0.16, -0.14, -0.12, -0.10, -0.08]

marker_size = 9
edge_width = 1.0


def split(pts):
    a = np.array(pts, dtype=float)
    return a[:, 0], a[:, 1] / 1e4


fig = plt.figure(figsize=(6, 6), dpi=300)
ax = fig.add_axes([0.219, 0.142, 0.6955, 0.8195])

bx, by = split(excluded_dense + excluded_core + excluded_blend + excluded_pts)
ax.scatter(bx, by, s=marker_size, c='royalblue', alpha=0.85, linewidths=edge_width)
bx, by = split(excluded_faint)
ax.scatter(bx, by, s=marker_size, c='royalblue', alpha=0.55, linewidths=edge_width, label='Excluded')
ox, oy = split(remain_pts)
ax.scatter(ox, oy, s=marker_size, c='orange', alpha=0.85, linewidths=edge_width)
ox, oy = split(remain_faint)
ax.scatter(ox, oy, s=marker_size, c='orange', alpha=0.55, linewidths=edge_width, label='Remain')

ax.set_xlim(300, 1000)
ax.set_ylim(-0.2229, -0.0698)
ax.set_xticks(x_ticks)
ax.set_yticks(y_ticks)
ax.tick_params(labelsize=15)
for lab in ax.get_xticklabels() + ax.get_yticklabels():
    lab.set_fontweight('bold')
for sp in ax.spines.values():
    sp.set_linewidth(1.0)
ax.grid(True, linestyle='--', color='#b0b0b0', linewidth=0.8)

ax.set_xlabel(r'$m_{h_2}$ [GeV]', fontsize=18, fontweight='bold')
ax.set_ylabel(r'sin$\theta$', fontsize=18, fontweight='bold')
ax.legend(loc='upper right', frameon=False, prop={'weight': 'bold', 'size': 18})

fig.savefig('out.png', dpi=300)
